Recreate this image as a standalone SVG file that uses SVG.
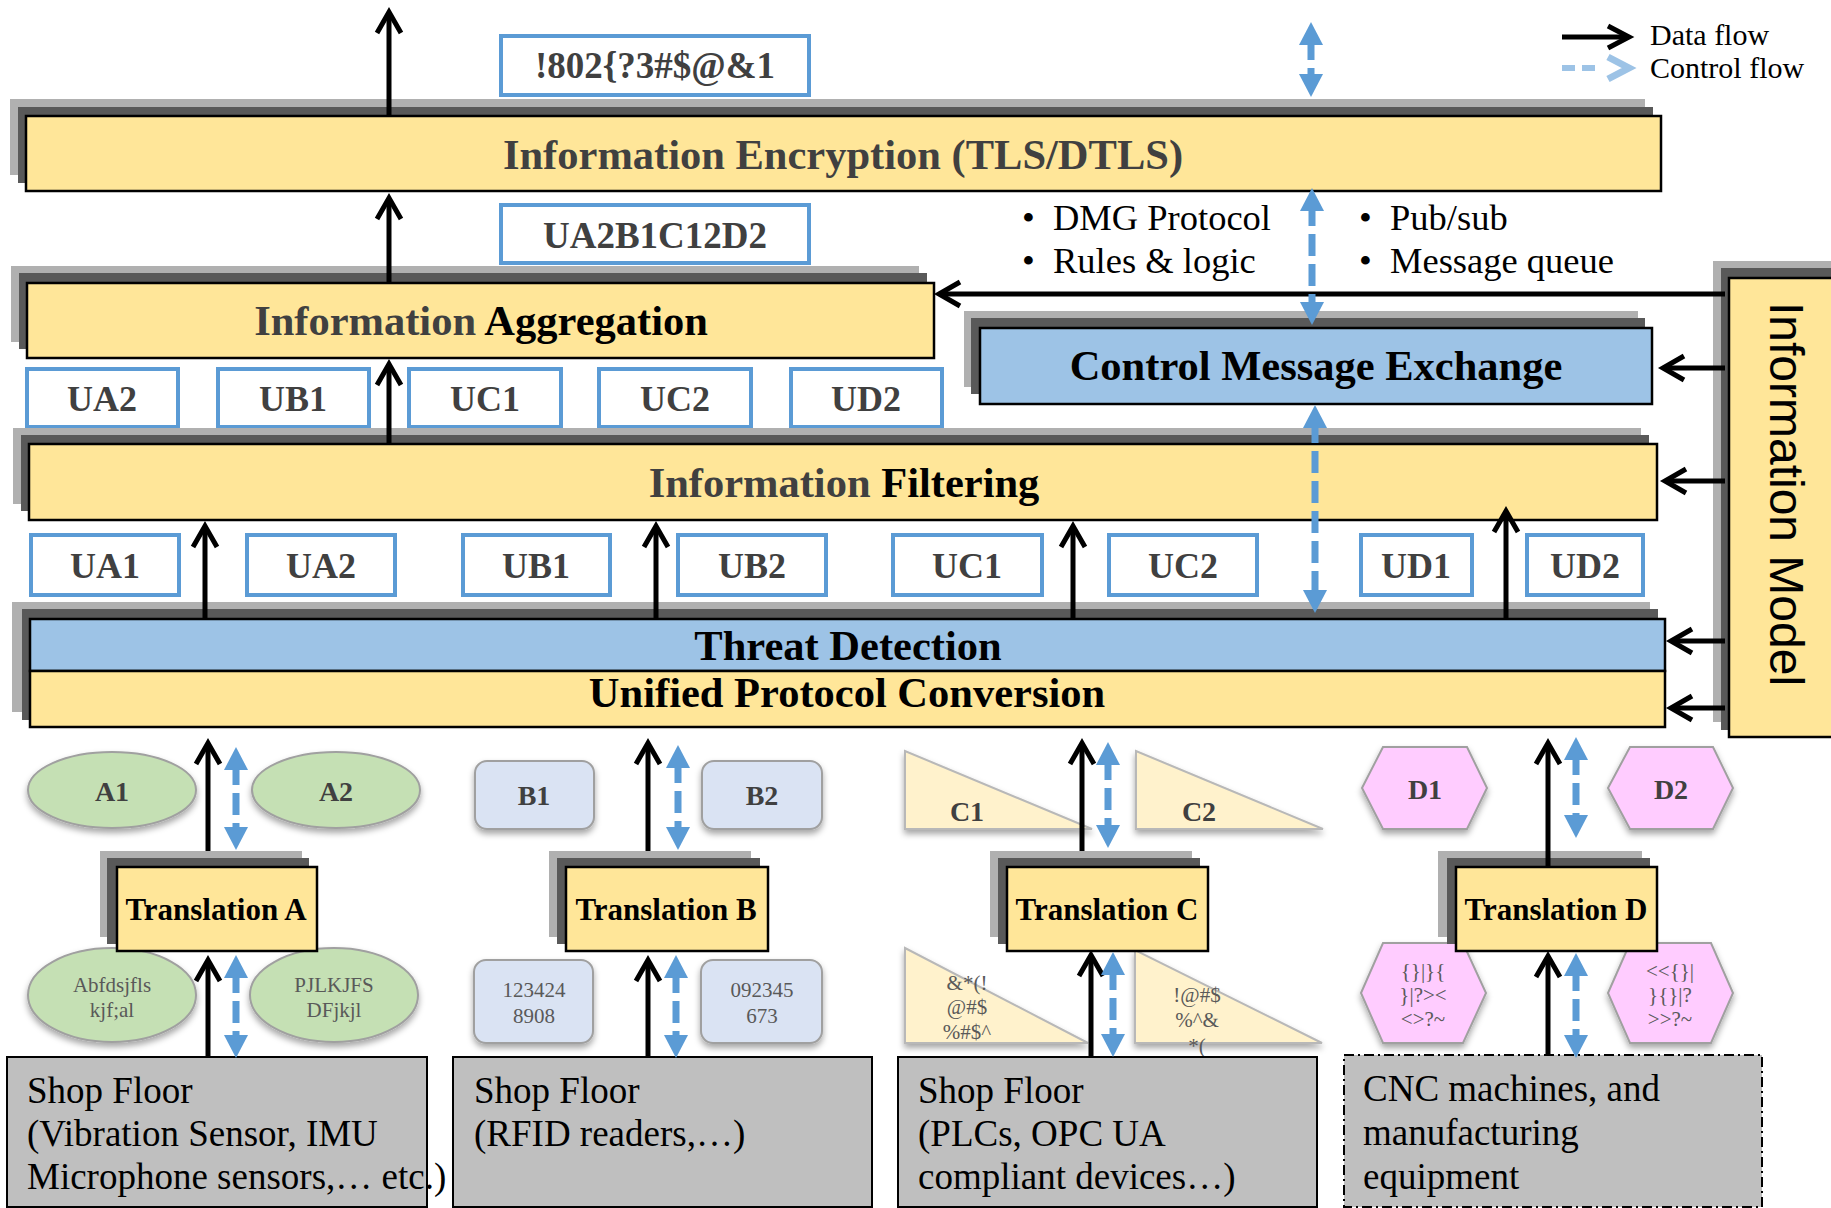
<svg xmlns="http://www.w3.org/2000/svg" width="1831" height="1208" viewBox="0 0 1831 1208">
<defs>
<style>
.sf{font-family:"Liberation Serif","Times New Roman",serif}
.lt{font-family:"Liberation Serif","Times New Roman",serif;font-weight:bold;font-size:42.5px;text-anchor:middle}
.g{fill:#404040}
.k{fill:#000}
.ub{fill:#fff;stroke:#5b9bd5;stroke-width:4}
.ut{font-family:"Liberation Serif","Times New Roman",serif;font-weight:bold;font-size:36px;text-anchor:middle;fill:#404040}
.sd{fill:#595959}
.sl{fill:#b0b0b0}
.yel{fill:#ffe699;stroke:#000;stroke-width:2.5}
.blu{fill:#9dc3e6;stroke:#000;stroke-width:2.5}
.tr{font-family:"Liberation Serif","Times New Roman",serif;font-weight:bold;font-size:31px;text-anchor:middle;fill:#000}
.sl2{font-family:"Liberation Serif","Times New Roman",serif;font-weight:bold;font-size:28px;text-anchor:middle;fill:#404040}
.st{font-family:"Liberation Serif","Times New Roman",serif;font-size:21px;text-anchor:middle;fill:#595959}
.shop{fill:#bfbfbf;stroke:#000;stroke-width:2}
.shopt{font-family:"Liberation Serif","Times New Roman",serif;font-size:37px;fill:#000}
.bul{font-family:"Liberation Serif","Times New Roman",serif;font-size:36.5px;fill:#000}
.ell{fill:#c5e0b4;stroke:#a0a0a0;stroke-width:2;filter:url(#ds)}
.brc{fill:#dae3f3;stroke:#a0a0a0;stroke-width:2;filter:url(#ds)}
.tri{fill:#fff2cc;stroke:#b8b8b8;stroke-width:2;filter:url(#ds)}
.hex{fill:#ffccff;stroke:#a0a0a0;stroke-width:2;filter:url(#ds)}
.data{stroke:#000;stroke-width:5;fill:none;marker-end:url(#ah)}
.ctrl{stroke:#5b9bd5;stroke-width:7;fill:none;stroke-dasharray:22 8;marker-start:url(#bh);marker-end:url(#bh)}
</style>
<filter id="ds" x="-20%" y="-20%" width="140%" height="150%">
<feDropShadow dx="0" dy="4" stdDeviation="3" flood-color="#000" flood-opacity="0.35"/>
</filter>
<marker id="ah" markerUnits="userSpaceOnUse" markerWidth="40" markerHeight="40" viewBox="-30 -20 40 40" refX="0" refY="0" orient="auto">
<path d="M-21,-12 L0,0 L-21,12" fill="none" stroke="#000" stroke-width="5"/>
</marker>
<marker id="bh" markerUnits="userSpaceOnUse" markerWidth="60" markerHeight="40" viewBox="-30 -20 60 40" refX="0" refY="0" orient="auto-start-reverse">
<path d="M16,0 L-7,-12 L-7,12 Z" fill="#5b9bd5"/>
</marker>
</defs>
<rect width="1831" height="1208" fill="#fff"/>

<!-- Information Model -->
<g id="info-model">
<rect class="sl" x="1713" y="261" width="140" height="461"/>
<rect class="sd" x="1721" y="268" width="140" height="462"/>
<rect class="yel" x="1729" y="278" width="140" height="459"/>
<text transform="translate(1770,494) rotate(90)" font-family="'Liberation Sans',Arial,sans-serif" font-size="48" text-anchor="middle" fill="#000">Information Model</text>
</g>

<!-- Encryption layer -->
<g id="encryption">
<rect class="sl" x="10" y="99" width="1635" height="76"/>
<rect class="sd" x="18" y="107" width="1635" height="76"/>
<rect class="yel" x="26" y="116" width="1635" height="75"/>
<text class="lt g" x="843" y="169">Information Encryption (TLS/DTLS)</text>
</g>

<g id="encrypted-data">
<rect class="ub" x="501" y="36" width="308" height="59"/>
<text class="sf" x="655" y="78" font-size="37" font-weight="bold" text-anchor="middle" fill="#404040">!802{?3#$@&amp;1</text>
</g>

<g id="aggregated-data">
<rect class="ub" x="501" y="205" width="308" height="58"/>
<text class="sf" x="655" y="248" font-size="37" font-weight="bold" text-anchor="middle" fill="#404040">UA2B1C12D2</text>
</g>

<!-- Aggregation layer -->
<g id="aggregation">
<rect class="sl" x="11" y="266" width="908" height="76"/>
<rect class="sd" x="19" y="273" width="908" height="76"/>
<rect class="yel" x="27" y="283" width="907" height="75"/>
<text class="lt" x="481" y="335"><tspan class="g">Information </tspan><tspan class="k">Aggregation</tspan></text>
</g>

<!-- CME -->
<g id="control-message-exchange">
<rect class="sl" x="964" y="311" width="674" height="76"/>
<rect class="sd" x="971" y="318" width="674" height="76"/>
<rect class="blu" x="980" y="328" width="672" height="76"/>
<text class="lt k" x="1316" y="380">Control Message Exchange</text>
</g>

<g id="cme-notes">
<text class="bul" y="230"><tspan x="1022">•</tspan><tspan x="1053">DMG Protocol</tspan></text>
<text class="bul" y="273"><tspan x="1022">•</tspan><tspan x="1053">Rules &amp; logic</tspan></text>
<text class="bul" y="230"><tspan x="1359">•</tspan><tspan x="1390">Pub/sub</tspan></text>
<text class="bul" y="273"><tspan x="1359">•</tspan><tspan x="1390">Message queue</tspan></text>
</g>

<!-- Row 1 U boxes -->
<g id="row1-boxes">
<g id="r1-ua2"><rect class="ub" x="27" y="369" width="151" height="58"/><text class="ut" x="102" y="411">UA2</text></g>
<g id="r1-ub1"><rect class="ub" x="218" y="369" width="151" height="58"/><text class="ut" x="293" y="411">UB1</text></g>
<g id="r1-uc1"><rect class="ub" x="409" y="369" width="152" height="58"/><text class="ut" x="485" y="411">UC1</text></g>
<g id="r1-uc2"><rect class="ub" x="599" y="369" width="152" height="58"/><text class="ut" x="675" y="411">UC2</text></g>
<g id="r1-ud2"><rect class="ub" x="791" y="369" width="151" height="58"/><text class="ut" x="866" y="411">UD2</text></g>
</g>

<!-- Filtering layer -->
<g id="filtering">
<rect class="sl" x="13" y="428" width="1628" height="76"/>
<rect class="sd" x="21" y="435" width="1628" height="76"/>
<rect class="yel" x="29" y="444" width="1628" height="76"/>
<text class="lt" x="844" y="497"><tspan class="g">Information </tspan><tspan class="k">Filtering</tspan></text>
</g>

<!-- Row 2 U boxes -->
<g id="row2-boxes">
<g id="r2-ua1"><rect class="ub" x="31" y="535" width="148" height="60"/><text class="ut" x="105" y="578">UA1</text></g>
<g id="r2-ua2"><rect class="ub" x="247" y="535" width="148" height="60"/><text class="ut" x="321" y="578">UA2</text></g>
<g id="r2-ub1"><rect class="ub" x="463" y="535" width="147" height="60"/><text class="ut" x="536" y="578">UB1</text></g>
<g id="r2-ub2"><rect class="ub" x="678" y="535" width="148" height="60"/><text class="ut" x="752" y="578">UB2</text></g>
<g id="r2-uc1"><rect class="ub" x="893" y="535" width="149" height="60"/><text class="ut" x="967" y="578">UC1</text></g>
<g id="r2-uc2"><rect class="ub" x="1109" y="535" width="148" height="60"/><text class="ut" x="1183" y="578">UC2</text></g>
<g id="r2-ud1"><rect class="ub" x="1361" y="535" width="111" height="60"/><text class="ut" x="1416" y="578">UD1</text></g>
<g id="r2-ud2"><rect class="ub" x="1527" y="535" width="116" height="60"/><text class="ut" x="1585" y="578">UD2</text></g>
</g>

<!-- Threat detection / Unified protocol -->
<g id="threat-unified">
<rect class="sl" x="12" y="602" width="1638" height="110"/>
<rect class="sd" x="22" y="609" width="1636" height="111"/>
<rect class="blu" x="30" y="619" width="1635" height="52"/>
<rect class="yel" x="30" y="671" width="1635" height="56"/>
<text class="lt k" x="848" y="660">Threat Detection</text>
<text class="lt k" x="847" y="707">Unified Protocol Conversion</text>
</g>

<!-- Source shapes -->
<g id="shapes-a">
<ellipse class="ell" cx="112" cy="790" rx="84" ry="38"/>
<text class="sl2" x="112" y="801">A1</text>
<ellipse class="ell" cx="336" cy="790" rx="84" ry="38"/>
<text class="sl2" x="336" y="801">A2</text>
<ellipse class="ell" cx="112" cy="995" rx="84" ry="47"/>
<text class="st" x="112" y="992">Abfdsjfls</text>
<text class="st" x="112" y="1017">kjf;al</text>
<ellipse class="ell" cx="334" cy="995" rx="84" ry="47"/>
<text class="st" x="334" y="992">PJLKJFS</text>
<text class="st" x="334" y="1017">DFjkjl</text>
</g>
<g id="shapes-b">
<rect class="brc" x="475" y="761" width="119" height="68" rx="12"/>
<text class="sl2" x="534" y="805">B1</text>
<rect class="brc" x="702" y="761" width="120" height="68" rx="12"/>
<text class="sl2" x="762" y="805">B2</text>
<rect class="brc" x="474" y="960" width="119" height="83" rx="12"/>
<text class="st" x="534" y="997">123424</text>
<text class="st" x="534" y="1023">8908</text>
<rect class="brc" x="701" y="960" width="121" height="83" rx="12"/>
<text class="st" x="762" y="997">092345</text>
<text class="st" x="762" y="1023">673</text>
</g>
<g id="shapes-c">
<polygon class="tri" points="905,751 905,829 1092,829"/>
<text class="sl2" x="967" y="821">C1</text>
<polygon class="tri" points="1136,751 1136,829 1323,829"/>
<text class="sl2" x="1199" y="821">C2</text>
<polygon class="tri" points="905,948 905,1043 1088,1043"/>
<text class="st" x="967" y="990">&amp;*(!</text>
<text class="st" x="967" y="1014">@#$</text>
<text class="st" x="967" y="1039">%#$^</text>
<polygon class="tri" points="1135,950 1135,1043 1322,1043"/>
<text class="st" x="1197" y="1002">!@#$</text>
<text class="st" x="1197" y="1027">%^&amp;</text>
<text class="st" x="1197" y="1053">*(</text>
</g>
<g id="shapes-d">
<polygon class="hex" points="1362,788 1383,747 1467,747 1487,788 1467,829 1383,829"/>
<text class="sl2" x="1425" y="799">D1</text>
<polygon class="hex" points="1608,788 1630,747 1713,747 1733,788 1713,829 1630,829"/>
<text class="sl2" x="1671" y="799">D2</text>
<polygon class="hex" points="1361,993 1383,943 1463,943 1486,993 1463,1043 1383,1043"/>
<text class="st" x="1423" y="978">{}|}{</text>
<text class="st" x="1423" y="1002">}|?&gt;&lt;</text>
<text class="st" x="1423" y="1026">&lt;&gt;?~</text>
<polygon class="hex" points="1608,993 1630,943 1711,943 1733,993 1711,1043 1630,1043"/>
<text class="st" x="1670" y="978">&lt;&lt;{}|</text>
<text class="st" x="1670" y="1002">}{}|?</text>
<text class="st" x="1670" y="1026">&gt;&gt;?~</text>
</g>

<!-- Translation boxes -->
<g id="translation-a">
<rect class="sl" x="100" y="851" width="202" height="86"/>
<rect class="sd" x="107" y="858" width="202" height="86"/>
<rect class="yel" x="117" y="867" width="200" height="84"/>
<text class="tr" x="216" y="920">Translation A</text>
</g>
<g id="translation-b">
<rect class="sl" x="549" y="851" width="202" height="86"/>
<rect class="sd" x="557" y="858" width="203" height="86"/>
<rect class="yel" x="566" y="867" width="202" height="84"/>
<text class="tr" x="666" y="920">Translation B</text>
</g>
<g id="translation-c">
<rect class="sl" x="990" y="851" width="202" height="86"/>
<rect class="sd" x="998" y="858" width="202" height="86"/>
<rect class="yel" x="1007" y="867" width="201" height="84"/>
<text class="tr" x="1107" y="920">Translation C</text>
</g>
<g id="translation-d">
<rect class="sl" x="1438" y="851" width="204" height="86"/>
<rect class="sd" x="1447" y="858" width="203" height="86"/>
<rect class="yel" x="1456" y="867" width="201" height="84"/>
<text class="tr" x="1556" y="920">Translation D</text>
</g>

<!-- Shop floors -->
<g id="shop-a">
<rect class="shop" x="7" y="1057" width="420" height="150"/>
<text class="shopt" x="27" y="1103">Shop Floor</text>
<text class="shopt" x="27" y="1146">(Vibration Sensor, IMU</text>
<text class="shopt" x="27" y="1189">Microphone sensors,… etc.)</text>
</g>
<g id="shop-b">
<rect class="shop" x="453" y="1057" width="419" height="150"/>
<text class="shopt" x="474" y="1103">Shop Floor</text>
<text class="shopt" x="474" y="1146">(RFID readers,…)</text>
</g>
<g id="shop-c">
<rect class="shop" x="898" y="1057" width="419" height="150"/>
<text class="shopt" x="918" y="1103">Shop Floor</text>
<text class="shopt" x="918" y="1146">(PLCs, OPC UA</text>
<text class="shopt" x="918" y="1189">compliant devices…)</text>
</g>
<g id="shop-d">
<rect x="1344" y="1055" width="418" height="152" fill="#bfbfbf" stroke="#000" stroke-width="2" stroke-dasharray="10 4 2 4"/>
<text class="shopt" x="1363" y="1101">CNC machines, and</text>
<text class="shopt" x="1363" y="1145">manufacturing</text>
<text class="shopt" x="1363" y="1189">equipment</text>
</g>

<!-- Connectors -->
<g id="connectors">
<line class="data" x1="389" y1="116" x2="389" y2="12"/>
<line class="data" x1="389" y1="283" x2="389" y2="198"/>
<line class="data" x1="389" y1="444" x2="389" y2="364"/>
<line class="data" x1="205" y1="619" x2="205" y2="526"/>
<line class="data" x1="656" y1="619" x2="656" y2="526"/>
<line class="data" x1="1073" y1="619" x2="1073" y2="526"/>
<line class="data" x1="1506" y1="619" x2="1506" y2="511"/>
<line class="data" x1="1725" y1="294" x2="939" y2="294"/>
<line class="data" x1="1725" y1="368" x2="1663" y2="368"/>
<line class="data" x1="1725" y1="481" x2="1665" y2="481"/>
<line class="data" x1="1725" y1="641" x2="1671" y2="641"/>
<line class="data" x1="1725" y1="708" x2="1671" y2="708"/>
<line class="data" x1="208" y1="851" x2="208" y2="743"/>
<line class="data" x1="648" y1="851" x2="648" y2="743"/>
<line class="data" x1="1082" y1="851" x2="1082" y2="743"/>
<line class="data" x1="1548" y1="867" x2="1548" y2="743"/>
<line class="data" x1="208" y1="1057" x2="208" y2="960"/>
<line class="data" x1="648" y1="1057" x2="648" y2="960"/>
<line class="data" x1="1091" y1="1057" x2="1091" y2="955"/>
<line class="data" x1="1548" y1="1055" x2="1548" y2="956"/>
<line class="ctrl" x1="1311" y1="38" x2="1311" y2="81"/>
<line class="ctrl" x1="1312" y1="204" x2="1312" y2="309"/>
<line class="ctrl" x1="1315" y1="421" x2="1315" y2="597"/>
<line class="ctrl" x1="236" y1="763" x2="236" y2="834"/>
<line class="ctrl" x1="678" y1="761" x2="678" y2="834"/>
<line class="ctrl" x1="1108" y1="758" x2="1108" y2="832"/>
<line class="ctrl" x1="1576" y1="753" x2="1576" y2="822"/>
<line class="ctrl" x1="236" y1="971" x2="236" y2="1042"/>
<line class="ctrl" x1="676" y1="971" x2="676" y2="1042"/>
<line class="ctrl" x1="1113" y1="968" x2="1113" y2="1041"/>
<line class="ctrl" x1="1576" y1="969" x2="1576" y2="1042"/>
</g>

<!-- Legend -->
<g id="legend">
<line x1="1562" y1="37" x2="1626" y2="37" stroke="#000" stroke-width="5"/>
<path d="M1608,26 L1629,37 L1608,48" fill="none" stroke="#000" stroke-width="5"/>
<line x1="1562" y1="68" x2="1600" y2="68" stroke="#9dc3e6" stroke-width="6" stroke-dasharray="13 7"/>
<path d="M1608,57 L1629,68 L1608,79" fill="none" stroke="#9dc3e6" stroke-width="7"/>
<text class="sf" x="1650" y="45" font-size="30" fill="#000">Data flow</text>
<text class="sf" x="1650" y="78" font-size="30" fill="#000">Control flow</text>
</g>
</svg>
